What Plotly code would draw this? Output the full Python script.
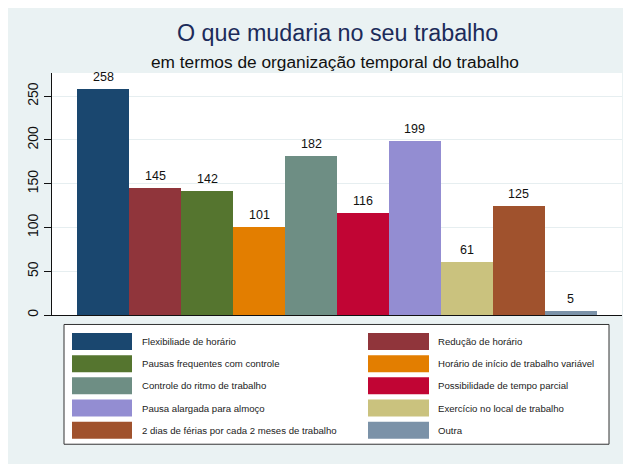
import plotly.graph_objects as go

categories = [
    "Flexibiliade de horário",
    "Redução de horário",
    "Pausas frequentes com controle",
    "Horário de início de trabalho variável",
    "Controle do ritmo de trabalho",
    "Possibilidade de tempo parcial",
    "Pausa alargada para almoço",
    "Exercício no local de trabalho",
    "2 dias de férias por cada 2 meses de trabalho",
    "Outra",
]
values = [258, 145, 142, 101, 182, 116, 199, 61, 125, 5]
colors = ["#1A476F", "#90353B", "#55752F", "#E37E00", "#6E8E84",
          "#C10534", "#938DD2", "#CAC27E", "#A0522D", "#7B92A8"]
y_ticks = [0, 50, 100, 150, 200, 250]

# the page body adds an 8px offset; figure sized to fit the window
OFF = 8
W, H = 631 - OFF, 464 - OFF
L, R, T, B = 52 - OFF, 9, 73 - OFF, 148.5
PW = W - L - R
PH = H - T - B

def px_x(x):
    return (x - OFF - L) / PW

def px_y(y):
    return (H - B - (y - OFF)) / PH

FONT = "Liberation Sans, Arial, Helvetica, sans-serif"
BG = "#EAF2F3"

fig = go.Figure()
fig.add_trace(go.Bar(
    x=categories, y=values,
    marker=dict(color=colors, line=dict(width=0)),
    width=1, showlegend=False, hoverinfo="x+y",
))

annotations = []
for c, v in zip(categories, values):
    annotations.append(dict(x=c, y=v, xref="x", yref="y", text=str(v),
                            showarrow=False, yanchor="bottom", yshift=3,
                            font=dict(size=12.5, color="#111111", family=FONT)))

annotations.append(dict(x=337, y=33, text="O que mudaria no seu trabalho",
                        font=dict(size=23.3, color="#1C2B5A", family=FONT)))
annotations.append(dict(x=335, y=62, text="em termos de organização temporal do trabalho",
                        font=dict(size=17.3, color="#111111", family=FONT)))
for a in annotations[-2:]:
    a.update(x=px_x(a["x"]), y=px_y(a["y"]), xref="paper", yref="paper",
             showarrow=False, xanchor="center", yanchor="middle")

shapes = []
# legend box
shapes.append(dict(type="rect", xref="paper", yref="paper",
                   x0=px_x(64), x1=px_x(609), y0=px_y(445), y1=px_y(325),
                   fillcolor="white", line=dict(color="#333333", width=1)))
col_sw = [(72, 132, 139.5), (368, 429, 435.5)]
for i, (c, col) in enumerate(zip(categories, colors)):
    row, cc = divmod(i, 2)
    cy = 342 + 22.25 * row
    sx0, sx1, tx = col_sw[cc]
    shapes.append(dict(type="rect", xref="paper", yref="paper",
                       x0=px_x(sx0), x1=px_x(sx1), y0=px_y(cy + 8.5), y1=px_y(cy - 8.5),
                       fillcolor=col, line=dict(width=0)))
    annotations.append(dict(x=px_x(tx), y=px_y(cy), xref="paper", yref="paper",
                            text=c, showarrow=False, xanchor="left", yanchor="middle",
                            font=dict(size=9.6, color="#222222", family=FONT)))

fig.update_layout(
    width=W, height=H,
    margin=dict(l=L, r=R, t=T, b=B, pad=0),
    paper_bgcolor=BG, plot_bgcolor="white",
    bargap=0,
    font=dict(family=FONT, color="#111111"),
    xaxis=dict(type="category", categoryorder="array", categoryarray=categories,
               range=[-0.99, 9.99], showticklabels=False, ticks="",
               showgrid=False, showline=True, linecolor="#111111", linewidth=1,
               zeroline=False, fixedrange=True),
    yaxis=dict(range=[0, 276.5], tickvals=y_ticks, ticktext=[str(t) for t in y_ticks],
               tickangle=-90, ticks="outside", ticklen=7, tickcolor="#111111",
               tickfont=dict(size=14, color="#111111", family=FONT),
               showgrid=True, gridcolor="#E6EEF0", gridwidth=1,
               showline=True, linecolor="#111111", linewidth=1,
               zeroline=False, fixedrange=True),
    annotations=annotations,
    shapes=shapes,
)

fig.write_html("out.html")
